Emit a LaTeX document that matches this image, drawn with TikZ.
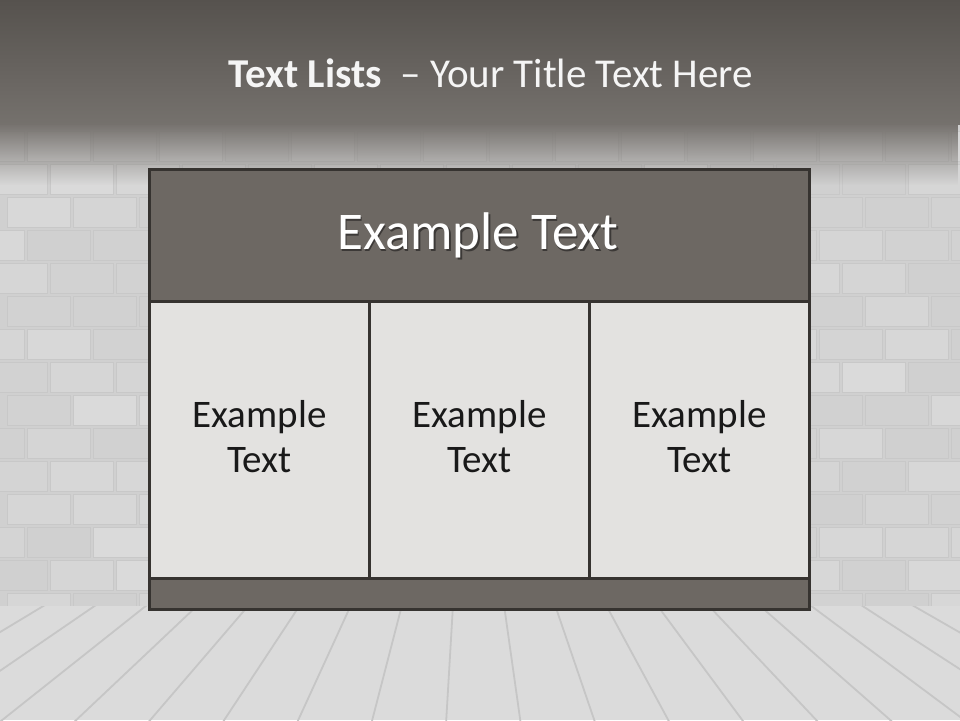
\documentclass[tikz,border=0pt]{standalone}
\usepackage{fontspec}
\setmainfont{Carlito}
\usetikzlibrary{fadings,calc}
\definecolor{bandtop}{HTML}{56524E}
\definecolor{bandbot}{HTML}{75716D}
\definecolor{wall}{HTML}{D0D0D0}
\definecolor{brick}{HTML}{DCDCDC}
\definecolor{brickline}{HTML}{C8C8C8}
\definecolor{floorc}{HTML}{DBDBDB}
\definecolor{floorline}{HTML}{C6C6C6}
\definecolor{panel}{HTML}{6D6863}
\definecolor{cell}{HTML}{E3E2E0}
\definecolor{frame}{HTML}{363330}
\colorlet{shadowc}{black!45!panel}
\newcommand{\shadowtext}[1]{\makebox[0pt][l]{\hspace{1.6pt}\raisebox{-1.6pt}{\color{shadowc}#1}}#1}
\tikzset{
  panelbox/.style={fill=panel, draw=frame, line width=3pt},
  cellbox/.style={fill=cell, draw=frame, line width=3pt},
  celltext/.style={font=\fontsize{39}{45}\selectfont, text=black!90, align=center, inner sep=0pt},
  headtext/.style={font=\fontsize{53}{60}\selectfont, text=white, inner sep=0pt},
  titletext/.style={font=\fontsize{41}{47}\selectfont, text=white!96!black, inner sep=0pt},
}
\begin{document}
\begin{tikzpicture}[x=1pt,y=-1pt]
\useasboundingbox (0,0) rectangle (960,720);
% wall
\fill[wall] (0,0) rectangle (960,610);
\pgfmathsetseed{11}
\foreach \r in {0,...,14}{
  \pgfmathsetmacro{\yy}{130+\r*33}
  \pgfmathsetmacro{\off}{mod(\r,3)*23 - 40}
  \foreach \c in {0,...,15}{
    \pgfmathsetmacro{\xx}{\off+\c*66}
    \pgfmathsetmacro{\sh}{int(rnd*9)}
    \fill[brick!\sh0!wall, draw=brickline, line width=0.8pt] (\xx+1.5,\yy+1.5) rectangle (\xx+64.5,\yy+31.5);
  }
}
% floor
\fill[floorc] (0,606) rectangle (960,720);
\begin{scope}
\clip (0,606) rectangle (960,720);
\coordinate (vp) at (468,350);
\foreach \k in {-10,...,12}{
  \draw[floorline, line width=1.8pt] (vp) -- ($(vp)!3!(453+\k*51,605)$);
}
\end{scope}
% top band
\shade[top color=bandtop, bottom color=bandbot] (0,0) rectangle (960,124);
\fill[bandbot, path fading=south] (0,123) rectangle (960,185);
% title
\node[titletext, anchor=base] (title) at (491,87) {\textbf{Text Lists}\ \ – Your Title Text Here};
% panel
\node[panelbox, minimum width=660pt, minimum height=132pt, anchor=north west, inner sep=0pt] (head) at (148,168) {};
\node[cellbox, minimum width=220pt, minimum height=277pt, anchor=north west, inner sep=0pt] (c1) at (148,300) {};
\node[cellbox, minimum width=220pt, minimum height=277pt, anchor=north west, inner sep=0pt] (c2) at (368,300) {};
\node[cellbox, minimum width=220pt, minimum height=277pt, anchor=north west, inner sep=0pt] (c3) at (588,300) {};
\node[panelbox, minimum width=660pt, minimum height=31pt, anchor=north west, inner sep=0pt] (foot) at (148,577) {};
\node[headtext, anchor=base] (ht) at (478,249.5) {\shadowtext{Example Text}};
\node[celltext, anchor=base] (t1) at (c1.center |- 0,472) {Example\\Text};
\node[celltext, anchor=base] (t2) at (c2.center |- 0,472) {Example\\Text};
\node[celltext, anchor=base] (t3) at (c3.center |- 0,472) {Example\\Text};
\end{tikzpicture}
\end{document}
